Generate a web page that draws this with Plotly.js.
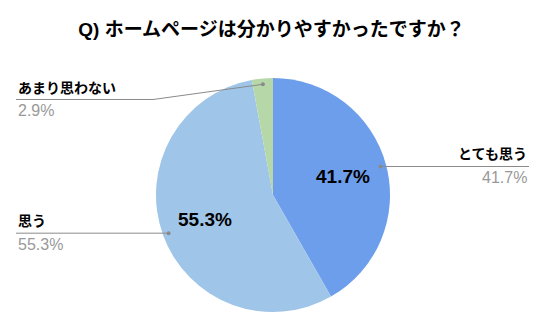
<!DOCTYPE html>
<html>
<head>
<meta charset="utf-8">
<script src="https://cdn.plot.ly/plotly-3.0.1.min.js"></script>
<style>html,body{margin:0;padding:0;background:#fff;}#chart{width:546px;height:329px;}</style>
</head>
<body>
<div id="chart"></div>
<script>
// ---- data ----
const titleText = 'Q) ホームページは分かりやすかったですか？';
const categories = ['とても思う', '思う', 'あまり思わない'];
const values = [41.7, 55.3, 2.9];
const colors = ['#6d9eeb', '#9fc5e8', '#b6d7a8'];

// ---- layout constants (pixels) ----
const W = 546, H = 329;
const CX = 273, CY = 195, R = 117;
const FONT = "'Liberation Sans', Arial, 'Noto Sans CJK JP', sans-serif";
const LABEL_GRAY = '#999999';
const LINE_GRAY = '#8a8a8a';

const px = x => x / W;
const py = y => 1 - y / H;

// slice bisector angles (clockwise from 12 o'clock) from the data
const total = values.reduce((a, b) => a + b, 0);
let acc = 0;
const mids = values.map(v => { const s = acc; acc += v / total * 360; return (s + acc) / 2; });
function polar(angleDeg, frac) {
  const a = angleDeg * Math.PI / 180;
  return [CX + frac * R * Math.sin(a), CY - frac * R * Math.cos(a)];
}

// label placement per slice: side, label line y, optional elbow x, line end x
const place = [
  {side: 'right', lineY: null, elbowX: null, endX: 529},
  {side: 'left',  lineY: null, elbowX: null, endX: 16},
  {side: 'left',  lineY: 99.5, elbowX: 153, endX: 16}
];
const showInside = [true, true, false];

const shapes = [];
const annotations = [];
values.forEach((v, i) => {
  const [dx, dy] = polar(mids[i], 0.95);
  const p = place[i];
  const ly = p.lineY === null ? dy : p.lineY;
  let path = `M ${px(dx)} ${py(dy)}`;
  if (p.elbowX !== null) path += ` L ${px(p.elbowX)} ${py(ly)}`;
  path += ` L ${px(p.endX)} ${py(ly)}`;
  shapes.push({type: 'path', xref: 'paper', yref: 'paper', path: path,
    line: {color: LINE_GRAY, width: 1}});
  shapes.push({type: 'circle', xref: 'paper', yref: 'paper',
    x0: px(dx - 2), x1: px(dx + 2), y0: py(dy - 2), y1: py(dy + 2),
    fillcolor: LINE_GRAY, line: {width: 0}});
  const xa = p.side === 'right' ? 'right' : 'left';
  annotations.push({xref: 'paper', yref: 'paper', x: px(p.endX), y: py(ly - 12),
    xanchor: xa, yanchor: 'middle', showarrow: false,
    text: '<b>' + categories[i] + '</b>',
    font: {family: FONT, size: 14, color: '#000'}});
  annotations.push({xref: 'paper', yref: 'paper', x: px(p.endX), y: py(ly + 11),
    xanchor: xa, yanchor: 'middle', showarrow: false,
    text: v.toFixed(1) + '%',
    font: {family: FONT, size: 16, color: LABEL_GRAY}});
  if (showInside[i]) {
    const [tx, ty] = polar(mids[i], 0.62);
    annotations.push({xref: 'paper', yref: 'paper', x: px(tx), y: py(ty),
      xanchor: 'center', yanchor: 'middle', showarrow: false,
      text: '<b>' + v.toFixed(1) + '%</b>',
      font: {family: FONT, size: 19, color: '#000'}});
  }
});

const trace = {
  type: 'pie',
  labels: categories,
  values: values,
  sort: false,
  direction: 'clockwise',
  rotation: 0,
  marker: {colors: colors, line: {width: 0}},
  textinfo: 'none',
  hoverinfo: 'none',
  showlegend: false,
  domain: {x: [px(CX - R), px(CX + R)], y: [py(CY + R), py(CY - R)]}
};

const layout = {
  width: W, height: H,
  margin: {l: 0, r: 0, t: 0, b: 0},
  paper_bgcolor: '#ffffff',
  plot_bgcolor: '#ffffff',
  showlegend: false,
  title: {text: '<b>' + titleText + '</b>', x: 0.4973, xref: 'paper', xanchor: 'center',
    y: py(29.5), yref: 'container', yanchor: 'middle',
    font: {family: FONT, size: 19, color: '#000'}},
  shapes: shapes,
  annotations: annotations
};

Plotly.newPlot('chart', [trace], layout, {staticPlot: true, displayModeBar: false});
</script>
</body>
</html>
